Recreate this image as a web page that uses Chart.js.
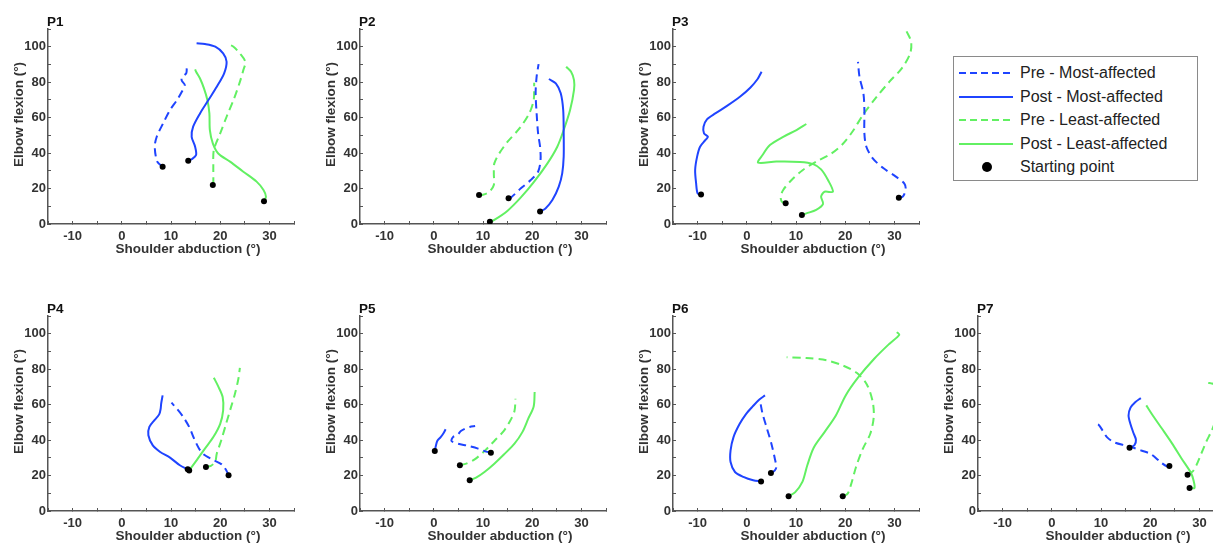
<!DOCTYPE html>
<html>
<head>
<meta charset="utf-8">
<script src="https://cdn.jsdelivr.net/npm/chart.js@4.4.1/dist/chart.umd.min.js"></script>
<style>
    body { margin:0; background:#fff; overflow:hidden; width:1213px; height:543px; position:relative; font-family:"Liberation Sans", Arial, sans-serif; }
    canvas { position:absolute; }
    #legend { position:absolute; left:953px; top:56px; width:245px; height:125px; border:1px solid #8a8a8a; box-sizing:border-box; }
    .row { position:absolute; left:0; height:20px; display:flex; align-items:center; font-size:16px; color:#222; white-space:nowrap; }
    .row svg { margin-left:5px; margin-right:7px; }
</style>
</head>
<body>
<div id="legend"></div>
<script>
const panelNames = ["P1", "P2", "P3", "P4", "P5", "P6", "P7"];
const seriesNames = ["Pre - Most-affected", "Post - Most-affected", "Pre - Least-affected", "Post - Least-affected"];
const startName = "Starting point";
const xTitle = "Shoulder abduction (°)";
const yTitle = "Elbow flexion (°)";
const xTickLabels = [-10, 0, 10, 20, 30];
const yTickLabels = [0, 20, 40, 60, 80, 100];

// [shoulder abduction, elbow flexion]; first pair of each trace is its starting point
const p1PreMost = [[8.3,32.3],[7.2,35.2],[6.7,43.6],[7.1,49.2],[8.4,56.8],[9.8,64.3],[11.2,69.9],[12.2,74.6],[12.8,78.4],[12.2,80.8],[12.2,82.7],[13.1,85],[13.2,87.8]];
const p1PostMost = [[13.5,35.7],[14.2,36.5],[15.1,38.9],[14.9,43.6],[14.2,49.2],[14.5,54.9],[15.9,62.4],[17.6,69.9],[19.3,77.4],[20.8,85],[21.3,91.5],[20.6,96.2],[19,100],[16.9,101.5],[15.2,101.9]];
const p1PreLeast = [[18.5,22],[18.6,23.9],[18.6,32.3],[18.7,41.7],[20,51.1],[21.3,60.5],[22.7,69.9],[23.9,79.3],[24.7,86.8],[25.1,91.5],[24,96.2],[22.7,100],[21.5,101.5]];
const p1PostLeast = [[28.9,12.8],[29.3,15.4],[28.8,19.2],[27.4,23.9],[24.7,29.5],[22,35.2],[19.6,39.8],[18.5,45.5],[17.9,53],[17.8,62.4],[17.4,69.9],[16.7,76.5],[15.9,82.1],[15.1,85.9],[14.9,87.2]];

const p2PreMost = [[15.2,14.5],[15.7,15],[17.7,20.1],[19.7,24.8],[21.2,29.5],[21.7,36.1],[21.6,43.6],[21.2,51.1],[20.9,62.4],[20.7,73.7],[20.9,83.1],[21.3,90.2]];
const p2PostMost = [[21.6,7],[22.7,8.8],[24.1,13.5],[25.4,21.1],[26.1,28.6],[26.4,38],[26.4,51.1],[26.3,64.3],[25.8,73.7],[24.8,79.3],[23.4,81.8]];
const p2PreLeast = [[9.2,16.4],[10,16.5],[11.3,18.2],[12.2,22],[12.2,28.6],[12.3,34.2],[13.3,39.8],[15,46.4],[17.4,53.9],[19.4,62.4],[20.3,69.9],[20.4,77.4],[20.4,79.7]];
const p2PostLeast = [[11.4,1.3],[12.3,2.3],[15,7.5],[17.7,15],[20.4,23.9],[23.1,34.2],[25.1,43.6],[26.4,53],[27.7,64.3],[28.5,75.6],[28.5,81.2],[27.9,85.9],[26.9,88.7]];

const p3PreMost = [[30.9,14.8],[31.7,15.4],[32.3,19.5],[32,22.9],[30.3,26.7],[27.8,31.4],[25.6,37],[24.3,43.6],[23.9,51.1],[23.9,64.3],[23.7,73.7],[22.9,83.1],[22.6,91.5]];
const p3PostMost = [[-9.3,16.7],[-10,17.3],[-10.3,22.9],[-10.5,30.5],[-10.1,38],[-9.5,43.6],[-8.4,47.4],[-7.9,49.2],[-8.7,51.1],[-8.8,54.9],[-8.1,59],[-6.4,62.4],[-4.1,66.5],[-1.4,71.8],[0.7,76.9],[2.2,81.8],[3,85.9]];
const p3PreLeast = [[7.9,11.7],[7.1,12.6],[6.9,15.4],[7.4,19.2],[9.1,24.8],[11.4,30.5],[14.1,35.2],[17.2,39.8],[19.5,45.1],[21.6,52.6],[23.6,61.5],[26.3,71.4],[29,80.3],[31.5,87.8],[33.2,96.2],[33.4,102.8],[32.5,108.5],[32.3,109.8]];
const p3PostLeast = [[11.2,5.1],[12.1,6],[14.1,7.9],[15.5,11.3],[15.1,15.4],[15.8,18.2],[17.5,18.2],[16.5,24.8],[15.1,30.8],[13.5,33.8],[10.8,35],[6,35.2],[2.3,34.6],[3.2,38.9],[4.7,44.5],[7.4,49.2],[10.1,53],[12.1,56.4]];

const p4PreMost = [[21.7,20.1],[21.3,22.6],[20.3,26.3],[18.5,28.9],[16.6,32],[15.6,35.7],[14.7,40.8],[13.7,47.4],[12.4,53.4],[11.2,57.7],[10.1,61.1]];
const p4PostMost = [[13.4,23.5],[11.8,25.8],[9.8,30.1],[7.8,33.3],[6.3,37],[5.4,42.7],[5.6,47.4],[6.6,51.1],[7.6,54.5],[7.9,57.7],[8,60.5],[8.3,65.2]];
const p4PreLeast = [[17.1,24.8],[18.1,25.4],[19,28],[19.3,32.3],[20.2,39.8],[21.2,49.2],[22.2,58.6],[23,66.2],[23.7,74.6],[24,80.8]];
const p4PostLeast = [[13.7,22.9],[15.2,28.6],[16.9,35.2],[18.6,41.7],[20,49.2],[20.6,56.8],[20.5,64.3],[19.6,70.3],[18.7,75.2]];

const p5PreMost = [[11.6,32.9],[10.6,33.5],[9,35.2],[6.9,36.8],[4.9,38],[3.6,39.5],[3.9,41.7],[4.9,43.2],[5.5,45.1],[6.3,46.4],[7.3,47.4],[8.4,47.9]];
const p5PostMost = [[0.2,33.8],[0.4,36.5],[0.7,39.5],[1.4,41.7],[2,44],[2.4,46.1]];
const p5PreLeast = [[5.3,25.8],[6.6,26.7],[8.3,29.1],[10.3,33.8],[12.3,39.5],[14.2,45.1],[15.5,50.8],[16.4,56.4],[16.6,63.3]];
const p5PostLeast = [[7.3,17.3],[8.6,18.8],[10.3,22],[12.3,26.7],[14.3,32],[16.4,38],[18,44.5],[19.2,52.1],[20.3,59],[20.5,67.1]];

const p6PreMost = [[4.9,21.4],[5.7,22.9],[6,24.8],[5.7,29.5],[5,38],[4,47.4],[3.2,54.9],[2.8,60.5]];
const p6PostMost = [[2.9,16.7],[1.3,17.3],[-0.7,19.2],[-2.4,22],[-3.3,27.6],[-3.3,34.2],[-2.7,41.7],[-1.5,48.9],[-0.2,54.5],[1.2,59],[2.5,62.8],[3.7,65.2]];
const p6PreLeast = [[19.5,8.3],[20.5,9.8],[21.2,15],[22.2,24.8],[23.6,35.2],[25.1,43.6],[25.8,53],[25.6,61.5],[24.4,71.4],[22.4,77.8],[19.5,82.1],[16.2,85],[12.1,86.3],[8.1,86.7]];
const p6PostLeast = [[8.5,8.3],[9.8,10.5],[11.3,16.4],[12.3,25.8],[13.6,35.7],[15.8,44.5],[18.1,53.9],[20.1,65.2],[22.6,75.2],[25.9,85.9],[29,94.4],[31,99.4],[30.5,100.9]];

const p7PreMost = [[23.9,25.4],[23.4,25.2],[22.1,27.6],[20.2,32],[18.1,34.2],[15.4,36.7],[12.7,38.7],[11.2,41.7],[10.3,45.5],[9.5,48.7],[8.8,49.2]];
const p7PostMost = [[15.8,35.7],[16.8,37.2],[17.1,40.2],[16.6,44],[16,48.9],[15.6,53.9],[16,58.3],[17,61.5],[18.1,63.7]];
const p7PreLeast = [[27.6,20.5],[28.6,22.2],[29.4,25.9],[30.4,32.5],[31.4,39.1],[32.4,44.7],[33.1,49.2],[34.3,55],[34.8,62],[34.4,68],[33.4,71],[32.4,72],[31.8,72.2]];
const p7PostLeast = [[28,13],[29,13],[28.8,17.3],[28.3,21.4],[26.4,29.5],[24.4,38.3],[22.3,46.8],[20.6,53.6],[19.2,59.6]];

const panelSeries = [
    [p1PreMost, p1PostMost, p1PreLeast, p1PostLeast],
    [p2PreMost, p2PostMost, p2PreLeast, p2PostLeast],
    [p3PreMost, p3PostMost, p3PreLeast, p3PostLeast],
    [p4PreMost, p4PostMost, p4PreLeast, p4PostLeast],
    [p5PreMost, p5PostMost, p5PreLeast, p5PostLeast],
    [p6PreMost, p6PostMost, p6PreLeast, p6PostLeast],
    [p7PreMost, p7PostMost, p7PreLeast, p7PostLeast]
];

// layout: y-axis x position and plot top of each panel
const panelPos = [[48,29],[360,29],[673,29],[48,316],[360,316],[673,316],[978,316]];
const BLUE = "#1f44ff";
const GREEN = "#62f062";
const seriesColors = [BLUE, BLUE, GREEN, GREEN];
const seriesDash = [[8,5], [], [8,5], []];
const FONT = "'Liberation Sans', Arial, sans-serif";

// panel name and axis titles (axis titles sit a bit off-centre in the original)
const panelText = {
    id: "panelText",
    afterDraw(chart, args, opts) {
        const {ctx, chartArea} = chart;
        ctx.save();
        ctx.font = "bold 13.5px " + FONT;
        ctx.fillStyle = "#111";
        ctx.textAlign = "left";
        ctx.textBaseline = "alphabetic";
        ctx.fillText(opts.text, chartArea.left - 1, chartArea.top - 3.5);

        ctx.fillStyle = "#333";
        ctx.textAlign = "center";
        ctx.textBaseline = "middle";
        ctx.fillText(xTitle, (chartArea.left + chartArea.right) / 2 + 17, chartArea.bottom + 25);
        ctx.translate(chartArea.left - 29, (chartArea.top + chartArea.bottom) / 2 - 12);
        ctx.rotate(-Math.PI / 2);
        ctx.fillText(yTitle, 0, 0);
        ctx.restore();
    }
};

function makePanel(i) {
    const [ax, top] = panelPos[i];
    const cv = document.createElement("canvas");
    cv.width = 302;
    cv.height = 260;
    cv.style.left = (ax - 48) + "px";
    cv.style.top = (top - 29) + "px";
    document.body.appendChild(cv);

    const series = panelSeries[i];
    const datasets = [{
        label: startName,
        data: series.map(s => ({x: s[0][0], y: s[0][1]})),
        showLine: false,
        pointRadius: 3,
        pointBackgroundColor: "#000",
        pointBorderWidth: 0
    }];
    series.forEach((s, k) => {
        datasets.push({
            label: seriesNames[k],
            data: s.map(p => ({x: p[0], y: p[1]})),
            showLine: true,
            borderColor: seriesColors[k],
            borderDash: seriesDash[k],
            borderWidth: 2,
            pointRadius: 0,
            tension: 0.3
        });
    });

    const axisColor = "#555";
    new Chart(cv, {
        type: "scatter",
        data: {datasets: datasets},
        options: {
            responsive: false,
            animation: false,
            layout: {padding: {top: 29, right: 8, left: 0, bottom: 0}},
            plugins: {
                legend: {display: false},
                tooltip: {enabled: false},
                panelText: {text: panelNames[i]}
            },
            scales: {
                x: {
                    type: "linear",
                    min: -15,
                    max: 35,
                    afterFit: s => { s.height = 36; },
                    border: {display: true, color: axisColor, width: 1.5},
                    grid: {drawOnChartArea: false, drawTicks: true, tickLength: -3, color: axisColor},
                    ticks: {
                        stepSize: 5,
                        autoSkip: false,
                        maxRotation: 0,
                        padding: 8,
                        color: "#333",
                        font: {family: FONT, size: 13, weight: "bold"},
                        callback: v => xTickLabels.includes(v) ? String(v) : ""
                    }
                },
                y: {
                    type: "linear",
                    min: 0,
                    max: 110,
                    afterFit: s => { s.width = 48; },
                    border: {display: true, color: axisColor, width: 1.5},
                    grid: {drawOnChartArea: false, drawTicks: true, tickLength: -3, color: axisColor},
                    ticks: {
                        stepSize: 10,
                        autoSkip: false,
                        padding: 5,
                        color: "#333",
                        font: {family: FONT, size: 13, weight: "bold"},
                        callback: v => yTickLabels.includes(v) ? String(v) : ""
                    }
                }
            }
        },
        plugins: [panelText]
    });
}

function buildLegend() {
    const box = document.getElementById("legend");
    const rowStep = 23.5;
    seriesNames.forEach((name, k) => {
        const row = document.createElement("div");
        row.className = "row";
        row.style.top = (16 + rowStep * k - 10) + "px";
        const dash = seriesDash[k].length ? 'stroke-dasharray="7,4"' : "";
        row.innerHTML = '<svg width="54" height="6"><line x1="0" y1="3" x2="54" y2="3" stroke="' +
            seriesColors[k] + '" stroke-width="2" ' + dash + '/></svg><span>' + name + '</span>';
        box.appendChild(row);
    });
    const row = document.createElement("div");
    row.className = "row";
    row.style.top = (16 + rowStep * 4 - 10) + "px";
    row.innerHTML = '<svg width="54" height="12"><circle cx="28" cy="6" r="5" fill="#000"/></svg><span>' + startName + '</span>';
    box.appendChild(row);
}

buildLegend();
panelNames.forEach((n, i) => makePanel(i));
</script>
</body>
</html>
